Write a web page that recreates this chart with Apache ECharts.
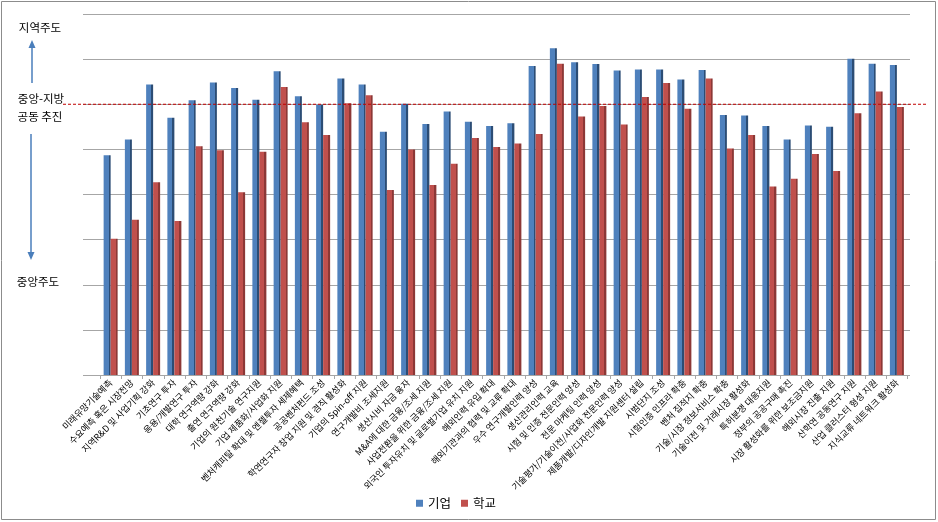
<!DOCTYPE html>
<html>
<head>
<meta charset="utf-8">
<script src="https://cdn.jsdelivr.net/npm/echarts@6/dist/echarts.min.js"></script>
<style>
html,body{margin:0;padding:0;background:#fff;}
#chart{width:938px;height:522px;}
</style>
</head>
<body>
<div id="chart"></div>
<script>
const categories = [
  '미래유망기술예측','수요예측 혹은 시장전망','지역R&D 및 사업기획 강화','기초연구 투자','응용/개발연구 투자',
  '대학 연구역량 강화','출연 연구역량 강화','기업의 원천기술 연구지원','기업 제품화/사업화 지원','벤처캐피탈 확대 및 엔젤투자 세제혜택',
  '공공벤처펀드 조성','학연연구자 창업 지원 및 겸직 활성화','기업의 Spin-off 지원','연구개발비 조세지원','생산시비 자금 융자',
  'M&A에 대한 금융/조세 지원','사업전환을 위한 금융/조세 지원','외국인 투자유치 및 글로벌기업 유치 지원','해외인력 유입 확대','해외기관과의 협력 및 교류 확대',
  '우수 연구개발인력 양성','생산관리인력 교육','시험 및 인증 전문인력 양성','전문 마케팅 인력 양성','기술평가/기술이전/사업화 전문인력 양성',
  '제품개발/디자인개발 지원센터 설립','시범단지 조성','시험인증 인프라 확충','벤처 집적지 확충','기술/시장 정보서비스 확충',
  '기술이전 및 거래시장 활성화','특허분쟁 대응지원','정부의 공공구매 촉진','시장 활성화를 위한 보조금지원','해외시장 진출 지원',
  '산학연 공동연구 지원','산업 클러스터 형성 지원','지식교류 네트워크 활성화'
];
const companyValues = [4.87,5.22,6.44,5.70,6.09,6.48,6.36,6.10,6.73,6.18,5.99,6.57,6.44,5.39,6.01,5.56,5.84,5.61,5.52,5.58,6.85,7.24,6.93,6.89,6.75,6.77,6.77,6.55,6.76,5.76,5.75,5.52,5.22,5.53,5.50,7.01,6.90,6.87];
const schoolValues = [3.02,3.44,4.27,3.41,5.07,4.98,4.05,4.95,6.38,5.60,5.32,6.02,6.20,4.10,5.00,4.21,4.68,5.25,5.05,5.13,5.34,6.90,5.73,5.96,5.55,6.16,6.47,5.90,6.57,5.02,5.32,4.18,4.35,4.90,4.52,5.80,6.28,5.94];
const seriesNames = ['기업','학교'];
const sideLabels = ['지역주도','중앙-지방','공동 추진','중앙주도'];
const jointLevel = 6;

const FONT = '"Noto Sans CJK KR", "Noto Sans", sans-serif';
function grad(front, side){
  return new echarts.graphic.LinearGradient(0,0,1,0,[
    {offset:0,color:front},{offset:0.7,color:front},{offset:0.7,color:side},{offset:1,color:side}
  ]);
}
const chart = echarts.init(document.getElementById('chart'), null, {renderer:'canvas'});
const option = {
  backgroundColor:'#fff',
  animation:false,
  textStyle:{fontFamily:FONT},
  legend:{
    data:[
      {name:seriesNames[0], itemStyle:{color:'#4F81BD'}},
      {name:seriesNames[1], itemStyle:{color:'#C0504D'}}
    ],
    top:492, left:411,
    itemWidth:7, itemHeight:7, itemGap:10,
    icon:'rect',
    textStyle:{fontSize:12.5, color:'#000', fontFamily:FONT}
  },
  grid:[
    {left:83, right:28, top:14, bottom:147},
    {left:100, right:30.5, top:14, bottom:147}
  ],
  xAxis:[
    {type:'value', gridIndex:0, show:false, min:0, max:1},
    {type:'category', gridIndex:1, data:categories, boundaryGap:true,
     axisLine:{show:true, lineStyle:{color:'#A6A6A6'}},
     axisTick:{show:true, length:4, lineStyle:{color:'#A6A6A6'}},
     axisLabel:{interval:0, rotate:45, fontSize:9, color:'#000', margin:6, fontFamily:FONT}
    }
  ],
  yAxis:[
    {type:'value', gridIndex:0, min:0, max:8, interval:1,
     axisLine:{show:false}, axisTick:{show:false}, axisLabel:{show:false},
     splitLine:{show:true, lineStyle:{color:'#A6A6A6', width:1.2}}},
    {type:'value', gridIndex:1, min:0, max:8, interval:1, show:false, splitLine:{show:false}}
  ],
  series:[
    {name:seriesNames[0], type:'bar', xAxisIndex:1, yAxisIndex:1, data:companyValues,
     barWidth:7, barGap:'0%', itemStyle:{color:grad('#4F81BD','#2C4D75')}},
    {name:seriesNames[1], type:'bar', xAxisIndex:1, yAxisIndex:1, data:schoolValues,
     barWidth:7, barGap:'0%', itemStyle:{color:grad('#C0504D','#8C3836')}}
  ]
};
chart.setOption(option);

const yJoint = chart.convertToPixel({yAxisIndex:1}, jointLevel);
chart.setOption({
  graphic:[
    {type:'rect', shape:{x:1.5,y:1.5,width:934,height:518}, style:{fill:'none', stroke:'#8C8C8C', lineWidth:1}, silent:true},
    {type:'line', shape:{x1:63,y1:yJoint,x2:927,y2:yJoint}, style:{stroke:'#C00000', lineWidth:1, lineDash:[3,2]}, z:10},
    {type:'text', x:40, y:28, style:{text:sideLabels[0], font:'11.5px '+FONT, fill:'#000', textAlign:'center', textVerticalAlign:'middle'}},
    {type:'text', x:41, y:99, style:{text:sideLabels[1], font:'11.5px '+FONT, fill:'#000', textAlign:'center', textVerticalAlign:'middle'}},
    {type:'text', x:40, y:117, style:{text:sideLabels[2], font:'11.5px '+FONT, fill:'#000', textAlign:'center', textVerticalAlign:'middle'}},
    {type:'text', x:38, y:282, style:{text:sideLabels[3], font:'11.5px '+FONT, fill:'#000', textAlign:'center', textVerticalAlign:'middle'}},
    {type:'line', shape:{x1:32,y1:83,x2:32,y2:47}, style:{stroke:'#4A7EBB', lineWidth:1.5}},
    {type:'polygon', shape:{points:[[32,40],[28.5,48],[35.5,48]]}, style:{fill:'#4A7EBB'}},
    {type:'line', shape:{x1:31,y1:134,x2:31,y2:253}, style:{stroke:'#4A7EBB', lineWidth:1.5}},
    {type:'polygon', shape:{points:[[31,260],[27.5,252],[34.5,252]]}, style:{fill:'#4A7EBB'}}
  ]
});
</script>
</body>
</html>
